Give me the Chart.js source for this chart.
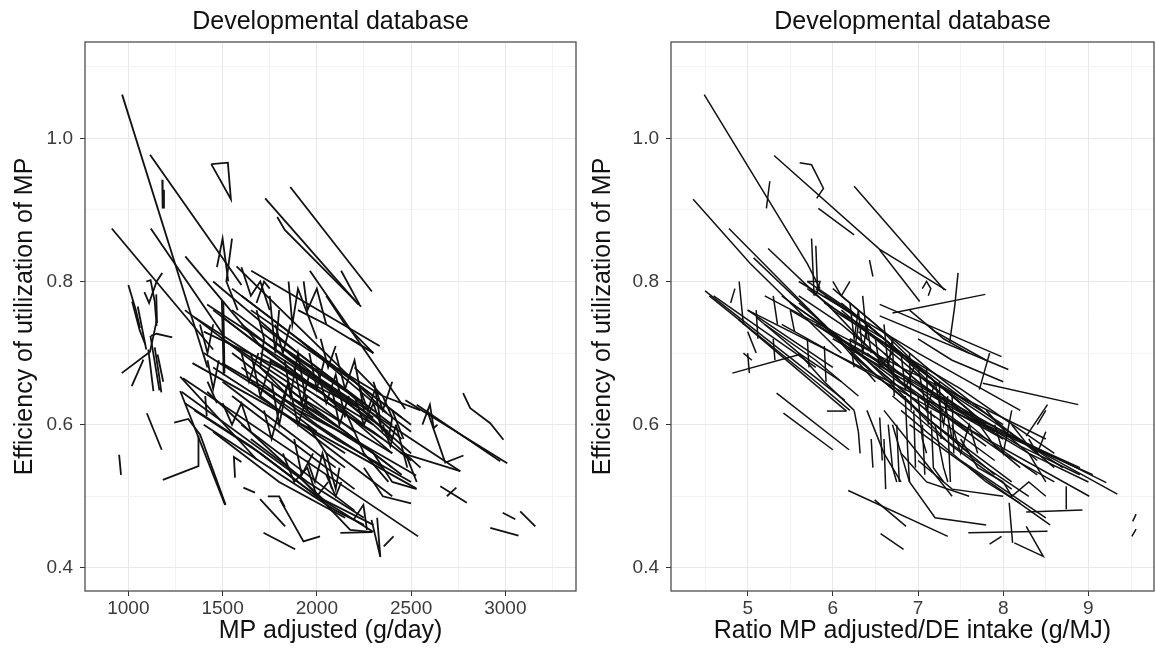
<!DOCTYPE html>
<html>
<head>
<meta charset="utf-8">
<script src="https://cdn.jsdelivr.net/npm/chart.js@4.4.1/dist/chart.umd.min.js"></script>
<style>
  body { margin: 0; background: #fff; }
  .panel { position: absolute; top: 0; width: 578px; height: 654px; }
</style>
</head>
<body>
<div class="panel" style="left:0"><canvas id="mpChart" width="578" height="654"></canvas></div>
<div class="panel" style="left:578px"><canvas id="ratioChart" width="578" height="654"></canvas></div>
<script>
// Tick positions (major + minor gridlines)
const mpTicks = [1000, 1250, 1500, 1750, 2000, 2250, 2500, 2750, 3000, 3250];
const ratioTicks = [4.5, 5, 5.5, 6, 6.5, 7, 7.5, 8, 8.5, 9, 9.5];
const effTicks = [0.4, 0.5, 0.6, 0.7, 0.8, 0.9, 1.0, 1.1];

// Left panel: each study as x,y pairs (MP adjusted g/day, efficiency)
const mpLines = [
  [967,1.061, 1420,0.680],
  [1115,0.977, 1443,0.854, 1600,0.795],
  [1440,0.964, 1528,0.966, 1544,0.915, 1440,0.964],
  [1180,0.942, 1182,0.902],
  [1189,0.928, 1189,0.902],
  [1726,0.916, 2220,0.768],
  [1790,0.890, 1830,0.872, 2235,0.765],
  [1859,0.932, 2292,0.786],
  [2129,0.815, 2226,0.768],
  [912,0.874, 1450,0.705],
  [1119,0.874, 1500,0.727],
  [1302,0.835, 1700,0.710],
  [1000,0.795, 1040,0.760, 1062,0.735],
  [1095,0.800, 1118,0.802, 1140,0.772, 1150,0.738],
  [1020,0.772, 1060,0.732, 1090,0.712],
  [1085,0.785, 1110,0.770, 1150,0.800, 1180,0.812],
  [1148,0.782, 1152,0.742],
  [1120,0.724, 1150,0.727, 1233,0.722],
  [965,0.672, 1115,0.702, 1150,0.745],
  [1018,0.654, 1080,0.691],
  [1133,0.647, 1106,0.705],
  [1117,0.724, 1165,0.648],
  [1140,0.708, 1165,0.665, 1175,0.645],
  [1155,0.698, 1185,0.660],
  [1050,0.765, 1095,0.705],
  [1098,0.616, 1177,0.565],
  [951,0.558, 961,0.530],
  [1183,0.523, 1372,0.542, 1372,0.585],
  [1243,0.603, 1318,0.608, 1381,0.586, 1516,0.488],
  [1275,0.647, 1513,0.488],
  [1275,0.667, 1682,0.551],
  [1566,0.526, 1560,0.555, 1600,0.548],
  [1610,0.512, 1672,0.505],
  [1699,0.496, 1832,0.458],
  [1717,0.449, 1885,0.426],
  [1805,0.495, 1929,0.437, 2017,0.444],
  [1740,0.500, 1800,0.500, 1830,0.485],
  [1408,0.640, 1416,0.612],
  [2776,0.644, 2814,0.623, 2920,0.602, 2990,0.579],
  [2920,0.456, 3070,0.445],
  [2986,0.477, 3053,0.468],
  [3079,0.479, 3159,0.458],
  [2470,0.634, 3010,0.546],
  [2530,0.628, 2973,0.549],
  [2584,0.621, 2681,0.547, 2778,0.557],
  [2655,0.514, 2796,0.491],
  [2690,0.500, 2740,0.512],
  [2443,0.561, 2761,0.535],
  [2560,0.600, 2600,0.628, 2620,0.595, 2640,0.600],
  [1290,0.665, 2537,0.444],
  [2290,0.467, 2337,0.415, 2320,0.470],
  [2355,0.430, 2407,0.444],
  [2194,0.467, 2247,0.488, 2266,0.453],
  [2125,0.449, 2292,0.450],
  [1282,0.646, 1924,0.523, 2177,0.453, 2294,0.450],
  [1418,0.646, 2041,0.494],
  [1340,0.686, 2527,0.511],
  [1496,0.686, 2527,0.529],
  [1418,0.768, 2761,0.535],
  [1574,0.821, 2372,0.616],
  [1652,0.815, 2333,0.710],
  [1963,0.815, 2469,0.622],
  [1496,0.774, 1506,0.669],
  [1504,0.772, 1510,0.672],
  [1300,0.760, 1900,0.640, 2400,0.560],
  [1350,0.750, 2000,0.640, 2350,0.580],
  [1400,0.730, 1800,0.680, 2300,0.600],
  [1450,0.800, 1900,0.700, 2300,0.620],
  [1550,0.790, 2050,0.690, 2450,0.610],
  [1600,0.780, 2100,0.680, 2350,0.640],
  [1650,0.760, 2200,0.660, 2500,0.600],
  [1700,0.740, 2100,0.660, 2450,0.580],
  [1750,0.720, 2150,0.650, 2400,0.600],
  [1800,0.700, 2200,0.630, 2500,0.560],
  [1500,0.720, 1900,0.650, 2200,0.590],
  [1550,0.700, 2000,0.610, 2300,0.560],
  [1600,0.680, 2000,0.600, 2350,0.540],
  [1650,0.660, 2100,0.580, 2500,0.520],
  [1700,0.640, 2100,0.560, 2400,0.500],
  [1450,0.680, 1800,0.620, 2150,0.560],
  [1500,0.660, 1850,0.590, 2100,0.540],
  [1550,0.640, 1900,0.570, 2200,0.510],
  [1400,0.700, 1700,0.650, 2000,0.590],
  [1600,0.600, 1900,0.540, 2200,0.480],
  [1650,0.580, 1950,0.520, 2250,0.470],
  [1700,0.560, 2000,0.500, 2300,0.460],
  [1750,0.780, 1780,0.700, 1800,0.760],
  [1850,0.800, 1870,0.740, 1900,0.790, 2000,0.720],
  [1930,0.800, 1950,0.760, 2000,0.790, 2050,0.740],
  [1830,0.690, 1860,0.640, 1900,0.700, 1950,0.620],
  [1800,0.620, 1850,0.660, 1900,0.600, 1950,0.640],
  [2000,0.680, 2050,0.630, 2100,0.670, 2150,0.610],
  [2100,0.700, 2150,0.650, 2200,0.690, 2250,0.620],
  [1950,0.550, 1990,0.520, 2030,0.560, 2080,0.510],
  [2050,0.530, 2100,0.500, 2130,0.520],
  [2200,0.640, 2250,0.600, 2300,0.630, 2350,0.590],
  [2300,0.660, 2350,0.620, 2400,0.660],
  [2350,0.600, 2390,0.570, 2420,0.600],
  [1600,0.820, 1650,0.780, 1700,0.800, 1750,0.760],
  [1550,0.860, 1520,0.800, 1580,0.760],
  [1470,0.820, 1500,0.860, 1530,0.800],
  [1680,0.770, 1720,0.800, 1750,0.790],
  [1380,0.740, 1420,0.700, 1450,0.740],
  [1420,0.690, 1450,0.650, 1480,0.690],
  [2180,0.720, 2300,0.700],
  [2050,0.780, 2150,0.740, 2300,0.700],
  [1900,0.760, 2050,0.740, 2300,0.700],
  [2200,0.680, 2350,0.640, 2550,0.620],
  [2420,0.600, 2480,0.540],
  [2470,0.560, 2530,0.520],
  [2150,0.620, 2250,0.560, 2380,0.520],
  [1350,0.620, 1700,0.560, 2000,0.500, 2300,0.450],
  [1400,0.600, 1750,0.540, 2100,0.480, 2250,0.460],
  [1450,0.590, 1800,0.520, 2150,0.470],
  [1300,0.630, 1650,0.570, 1900,0.520],
  [1820,0.560, 1880,0.520, 1950,0.540, 2000,0.500, 2060,0.520],
  [1880,0.580, 1920,0.530, 1980,0.560],
  [2050,0.560, 2100,0.510, 2120,0.540],
  [1850,0.700, 2300,0.600, 2550,0.540],
  [1900,0.720, 2350,0.620, 2500,0.590],
  [1750,0.690, 2000,0.650, 2400,0.560],
  [1650,0.720, 2000,0.660, 2380,0.590],
  [1700,0.700, 1950,0.660, 2250,0.600],
  [1600,0.740, 1900,0.680, 2300,0.610],
  [1550,0.760, 1850,0.700, 2250,0.630],
  [1500,0.750, 1800,0.690, 2100,0.630],
  [1450,0.760, 1750,0.700, 2050,0.640],
  [1800,0.660, 2100,0.600, 2300,0.560],
  [1850,0.640, 2150,0.590, 2400,0.540],
  [1900,0.620, 2200,0.580, 2450,0.530],
  [1950,0.660, 2250,0.620, 2400,0.580],
  [2000,0.640, 2300,0.590, 2500,0.550],
  [1700,0.680, 1850,0.640, 2050,0.610],
  [1650,0.700, 1700,0.640, 1760,0.690],
  [1760,0.660, 1800,0.600, 1840,0.650],
  [1880,0.680, 1920,0.630, 1960,0.670],
  [1960,0.700, 2000,0.650, 2040,0.690],
  [2080,0.650, 2120,0.600, 2170,0.640],
  [2230,0.650, 2270,0.620, 2310,0.650, 2340,0.600],
  [1720,0.620, 1760,0.580, 1800,0.620],
  [1600,0.700, 1640,0.660, 1690,0.700],
  [2350,0.640, 2400,0.610, 2380,0.580],
  [2400,0.620, 2460,0.580],
  [2250,0.540, 2350,0.500, 2500,0.490],
  [2300,0.560, 2400,0.520, 2530,0.510],
  [1950,0.600, 2050,0.560, 2150,0.540],
  [1500,0.630, 1550,0.600, 1600,0.630, 1650,0.590],
  [1420,0.660, 1470,0.630],
  [1680,0.760, 1720,0.720, 1700,0.680],
  [1780,0.740, 1820,0.700, 1860,0.740],
  [2020,0.720, 2060,0.680, 2100,0.710]
];

// Right panel: each study as x,y pairs (MP/DE ratio g/MJ, efficiency)
const ratioLines = [
  [4.49,1.061, 5.70,0.825, 5.85,0.790],
  [5.31,0.976, 6.55,0.845, 7.33,0.788],
  [5.83,0.902, 6.25,0.865],
  [5.61,0.966, 5.75,0.963, 5.89,0.930, 5.81,0.916],
  [5.26,0.940, 5.22,0.902],
  [6.25,0.933, 7.31,0.788],
  [4.36,0.915, 5.03,0.825, 6.10,0.700],
  [4.78,0.874, 5.57,0.779, 6.40,0.680],
  [5.24,0.846, 6.00,0.760, 6.80,0.660],
  [5.07,0.833, 5.80,0.750, 6.50,0.670],
  [6.55,0.844, 7.02,0.772],
  [6.55,0.768, 7.98,0.695],
  [6.55,0.752, 8.06,0.677],
  [6.70,0.756, 7.79,0.782],
  [7.47,0.812, 7.43,0.765, 7.37,0.714],
  [7.76,0.658, 8.88,0.628],
  [7.84,0.700, 7.72,0.649],
  [8.52,0.628, 8.27,0.584],
  [6.43,0.830, 6.47,0.807],
  [7.05,0.790, 7.10,0.800, 7.15,0.790, 7.12,0.780],
  [4.50,0.787, 6.14,0.634],
  [4.89,0.747, 6.16,0.619],
  [4.55,0.780, 5.80,0.660, 6.20,0.620],
  [5.34,0.644, 6.19,0.565],
  [5.42,0.616, 6.00,0.565],
  [4.82,0.672, 5.61,0.698],
  [6.18,0.508, 7.35,0.444],
  [6.49,0.495, 6.86,0.458],
  [6.56,0.448, 6.83,0.426],
  [5.93,0.619, 6.16,0.619],
  [5.00,0.700, 5.02,0.672],
  [4.80,0.770, 4.85,0.790],
  [4.90,0.800, 4.95,0.740],
  [5.10,0.760, 5.12,0.720],
  [5.00,0.730, 5.10,0.700],
  [5.30,0.780, 5.35,0.740],
  [5.50,0.760, 5.55,0.730],
  [9.56,0.475, 9.52,0.465],
  [9.56,0.454, 9.51,0.444],
  [8.74,0.514, 8.74,0.482],
  [8.27,0.478, 8.93,0.481],
  [7.59,0.449, 8.52,0.451],
  [8.07,0.491, 8.11,0.435],
  [8.13,0.435, 8.47,0.416, 8.27,0.458],
  [7.84,0.433, 7.98,0.444],
  [5.00,0.760, 7.00,0.640, 9.05,0.530],
  [5.50,0.760, 7.50,0.620, 9.21,0.519],
  [5.80,0.740, 7.40,0.630, 9.34,0.503],
  [5.40,0.740, 7.20,0.620, 9.01,0.500],
  [6.00,0.720, 7.60,0.610, 8.90,0.540],
  [5.20,0.780, 6.80,0.680, 8.50,0.580],
  [5.60,0.800, 7.00,0.700, 8.20,0.620],
  [5.70,0.790, 6.50,0.720, 7.50,0.650, 8.60,0.560],
  [6.10,0.780, 7.10,0.680, 8.40,0.560],
  [6.20,0.760, 7.30,0.650, 8.70,0.540],
  [6.30,0.740, 7.20,0.660, 8.00,0.600],
  [6.00,0.760, 6.80,0.700, 7.60,0.630],
  [5.90,0.770, 6.60,0.720, 7.30,0.640],
  [6.40,0.700, 7.00,0.640, 7.80,0.570],
  [6.50,0.680, 7.10,0.620, 7.90,0.550],
  [6.60,0.660, 7.20,0.600, 8.10,0.520],
  [6.70,0.640, 7.30,0.580, 8.30,0.500],
  [6.80,0.620, 7.50,0.550, 8.50,0.470],
  [6.90,0.600, 7.60,0.540, 8.55,0.460],
  [6.60,0.620, 7.00,0.560, 7.40,0.500],
  [6.70,0.600, 6.90,0.520, 7.20,0.470, 7.80,0.460],
  [6.80,0.560, 7.10,0.520, 7.60,0.500],
  [7.00,0.550, 7.40,0.510, 8.00,0.500],
  [7.20,0.600, 7.30,0.540, 7.35,0.520],
  [7.00,0.640, 7.05,0.580, 7.10,0.560],
  [6.65,0.600, 6.70,0.540, 6.75,0.520],
  [6.55,0.610, 6.58,0.550],
  [6.45,0.580, 6.47,0.540],
  [6.30,0.590, 6.32,0.560],
  [6.25,0.620, 6.30,0.590],
  [7.40,0.600, 7.50,0.560, 7.60,0.600, 7.70,0.560],
  [7.90,0.600, 8.00,0.560, 8.10,0.620],
  [8.30,0.580, 8.40,0.560, 8.50,0.590],
  [8.00,0.520, 8.10,0.500, 8.30,0.520, 8.50,0.500],
  [7.60,0.540, 7.80,0.520, 8.20,0.490],
  [5.75,0.860, 5.78,0.780],
  [5.80,0.850, 5.82,0.790],
  [5.70,0.800, 5.85,0.800, 5.80,0.780],
  [6.00,0.800, 6.10,0.780, 6.20,0.800],
  [6.10,0.760, 6.30,0.740, 6.25,0.700],
  [6.40,0.740, 6.45,0.700],
  [6.50,0.720, 6.55,0.680, 6.70,0.700],
  [6.80,0.700, 6.85,0.650, 6.95,0.680],
  [7.00,0.680, 7.10,0.620, 7.20,0.660],
  [7.20,0.660, 7.30,0.600, 7.35,0.640],
  [7.30,0.640, 7.40,0.580],
  [6.20,0.720, 6.25,0.680],
  [6.35,0.780, 6.40,0.720],
  [5.70,0.800, 6.20,0.760, 6.80,0.700, 7.40,0.640],
  [5.80,0.790, 6.30,0.750, 6.90,0.690, 7.50,0.630],
  [5.90,0.780, 6.40,0.740, 7.00,0.680, 7.60,0.620],
  [6.00,0.790, 6.50,0.740, 7.10,0.670, 7.70,0.610],
  [6.10,0.770, 6.60,0.720, 7.20,0.660, 7.80,0.600],
  [6.20,0.750, 6.70,0.700, 7.30,0.640, 7.90,0.590],
  [6.30,0.730, 6.80,0.680, 7.40,0.620, 8.00,0.580],
  [5.60,0.780, 6.10,0.740, 6.70,0.680, 7.30,0.620],
  [5.50,0.770, 6.00,0.730, 6.60,0.670, 7.20,0.610],
  [5.40,0.780, 6.20,0.710, 7.00,0.640, 7.60,0.590],
  [5.80,0.740, 6.40,0.690, 7.00,0.620, 7.60,0.560],
  [6.20,0.700, 6.80,0.640, 7.30,0.590, 7.90,0.530],
  [6.40,0.680, 6.90,0.630, 7.40,0.570, 8.10,0.510],
  [6.60,0.700, 7.20,0.640, 7.80,0.580, 8.40,0.530],
  [6.90,0.680, 7.50,0.620, 8.20,0.570, 8.90,0.530],
  [7.00,0.660, 7.60,0.610, 8.30,0.560, 9.00,0.520],
  [6.80,0.660, 7.40,0.610, 8.00,0.560, 8.60,0.520],
  [6.20,0.770, 6.25,0.720, 6.30,0.760],
  [6.30,0.760, 6.35,0.700, 6.40,0.740],
  [6.60,0.740, 6.65,0.680, 6.70,0.720],
  [6.70,0.720, 6.72,0.640],
  [6.90,0.700, 6.92,0.620],
  [7.10,0.680, 7.12,0.600],
  [7.25,0.660, 7.27,0.580],
  [7.40,0.640, 7.42,0.560],
  [6.85,0.640, 6.88,0.560, 6.90,0.520],
  [6.95,0.620, 6.97,0.540],
  [7.05,0.600, 7.08,0.530],
  [7.15,0.620, 7.18,0.540, 7.30,0.520],
  [7.35,0.600, 7.38,0.520],
  [6.60,0.580, 6.62,0.510],
  [6.75,0.600, 6.78,0.520],
  [6.40,0.620, 6.60,0.560, 6.80,0.520],
  [7.50,0.580, 7.70,0.540, 8.00,0.520],
  [7.60,0.620, 7.90,0.570, 8.20,0.540],
  [7.80,0.620, 8.10,0.580, 8.40,0.550],
  [8.10,0.600, 8.30,0.570, 8.60,0.540],
  [8.40,0.600, 8.50,0.620],
  [8.30,0.560, 8.50,0.520],
  [7.10,0.740, 7.30,0.720, 7.60,0.700],
  [6.90,0.760, 7.20,0.730, 7.80,0.690],
  [7.00,0.720, 7.40,0.690, 8.00,0.660],
  [6.20,0.720, 6.50,0.700, 6.80,0.660],
  [5.60,0.770, 5.90,0.740, 6.20,0.700, 6.50,0.660],
  [5.00,0.760, 5.50,0.720, 6.00,0.680],
  [5.10,0.750, 5.60,0.700, 6.10,0.660],
  [5.20,0.740, 5.80,0.690, 6.30,0.640],
  [4.60,0.780, 5.20,0.730, 5.80,0.680],
  [4.95,0.700, 5.05,0.690],
  [5.60,0.700, 5.90,0.660, 6.25,0.620],
  [5.30,0.720, 5.32,0.690],
  [5.70,0.720, 5.72,0.680],
  [5.90,0.710, 5.92,0.660]
];

const FONT = '"Liberation Sans", Arial, sans-serif';

function toPoints(line) {
  const pts = [];
  for (let i = 0; i < line.length; i += 2) pts.push({ x: line[i], y: line[i + 1] });
  return pts;
}

// panel border + title centred over the plot area
const panelFrame = {
  id: 'panelFrame',
  afterDraw(chart, args, opts) {
    const { ctx, chartArea: a } = chart;
    ctx.save();
    ctx.strokeStyle = '#4d4d4d';
    ctx.lineWidth = 1.3;
    ctx.strokeRect(a.left, a.top, a.right - a.left, a.bottom - a.top);
    ctx.fillStyle = '#111';
    ctx.font = '25px ' + FONT;
    ctx.textAlign = 'center';
    ctx.textBaseline = 'middle';
    ctx.fillText(opts.text, (a.left + a.right) / 2, 22);
    ctx.restore();
  }
};

function makePanel(id, lines, xTicks, isMajorX, xMin, xMax, xTitle, yWidth, lineW) {
  return new Chart(document.getElementById(id), {
    type: 'scatter',
    data: {
      datasets: lines.map(l => ({
        data: toPoints(l),
        showLine: true,
        borderColor: '#111',
        borderWidth: lineW,
        pointRadius: 0,
        tension: 0
      }))
    },
    options: {
      responsive: false,
      animation: false,
      layout: { padding: { top: 42, right: 2, left: 0, bottom: 0 } },
      plugins: {
        legend: { display: false },
        tooltip: { enabled: false },
        panelFrame: { text: 'Developmental database' }
      },
      scales: {
        x: {
          type: 'linear', min: xMin, max: xMax,
          afterBuildTicks: s => { s.ticks = xTicks.map(v => ({ value: v })); },
          afterFit: s => { s.height = 63; },
          ticks: {
            autoSkip: false, maxRotation: 0, padding: 1,
            color: '#3a3a3a', font: { family: FONT, size: 19 },
            callback: v => isMajorX(v) ? String(v) : ''
          },
          grid: {
            color: c => isMajorX(c.tick.value) ? '#e8e8e8' : '#f3f3f3',
            tickColor: c => isMajorX(c.tick.value) ? '#333' : 'rgba(0,0,0,0)',
            tickLength: 5
          },
          border: { display: false },
          title: {
            display: true, text: xTitle, color: '#111',
            font: { family: FONT, size: 25 }, padding: { top: 0, bottom: 8 }
          }
        },
        y: {
          type: 'linear', min: 0.3677, max: 1.1345,
          afterBuildTicks: s => { s.ticks = effTicks.map(v => ({ value: v })); },
          afterFit: s => { s.width = yWidth; },
          ticks: {
            autoSkip: false, padding: 7,
            color: '#3a3a3a', font: { family: FONT, size: 19 },
            callback: v => Math.round(v * 10) % 2 === 0 ? v.toFixed(1) : ''
          },
          grid: {
            color: c => Math.round(c.tick.value * 10) % 2 === 0 ? '#e8e8e8' : '#f3f3f3',
            tickColor: c => Math.round(c.tick.value * 10) % 2 === 0 ? '#333' : 'rgba(0,0,0,0)',
            tickLength: 5
          },
          border: { display: false },
          title: {
            display: true, text: 'Efficiency of utilization of MP', color: '#111',
            font: { family: FONT, size: 25 }, padding: { top: 10, bottom: 0 }
          }
        }
      }
    },
    plugins: [panelFrame]
  });
}

makePanel('mpChart', mpLines, mpTicks, v => v % 500 === 0,
  770, 3375, 'MP adjusted (g/day)', 85, 1.8);
makePanel('ratioChart', ratioLines, ratioTicks, v => Number.isInteger(v),
  4.10, 9.77, 'Ratio MP adjusted/DE intake (g/MJ)', 93, 1.5);
</script>
</body>
</html>
